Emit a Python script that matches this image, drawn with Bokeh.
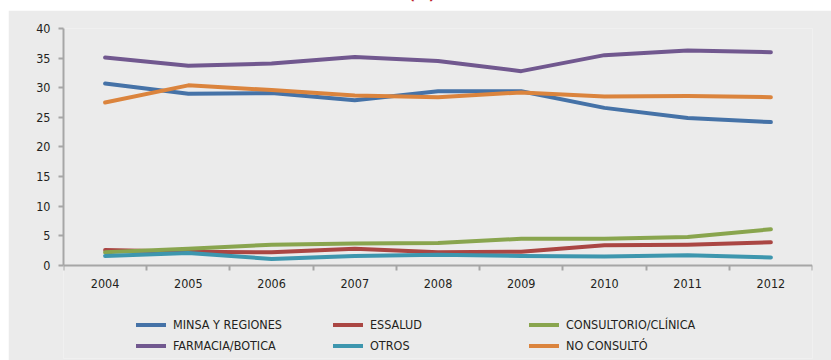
from bokeh.plotting import figure
from bokeh.models import (Range1d, FixedTicker, Legend, LegendItem, Div, LinearAxis)
from bokeh.layouts import column
from bokeh.embed import file_html
from bokeh.resources import INLINE

years = [2004, 2005, 2006, 2007, 2008, 2009, 2010, 2011, 2012]
year_labels = ["2004", "2005", "2006", "2007", "2008", "2009", "2010", "2011", "2012"]

minsa = [30.7, 29.0, 29.1, 27.9, 29.4, 29.4, 26.6, 24.9, 24.2]
essalud = [2.6, 2.3, 2.2, 2.8, 2.2, 2.3, 3.4, 3.5, 3.9]
consultorio = [2.2, 2.8, 3.5, 3.7, 3.8, 4.5, 4.5, 4.8, 6.1]
farmacia = [35.1, 33.7, 34.1, 35.2, 34.5, 32.8, 35.5, 36.3, 36.0]
otros = [1.6, 2.1, 1.1, 1.6, 1.8, 1.6, 1.5, 1.7, 1.35]
no_consulto = [27.5, 30.4, 29.6, 28.7, 28.4, 29.2, 28.5, 28.6, 28.4]

series_names = ["MINSA Y REGIONES", "ESSALUD", "CONSULTORIO/CLÍNICA",
                "FARMACIA/BOTICA", "OTROS", "NO CONSULTÓ"]
series_values = [minsa, essalud, consultorio, farmacia, otros, no_consulto]
series_colors = ["#4572A7", "#AA4643", "#89A54E", "#71588F", "#3D96AE", "#DB843D"]

y_ticks = [0, 5, 10, 15, 20, 25, 30, 35, 40]

BG = "#EBEBEB"
AXIS = "#A6A6A6"
TXT = "#231F20"
FONT = "DejaVu Sans Condensed"

# frame extends below the value axis so that the legend can sit inside it
p = figure(width=823, height=350, output_backend="svg", toolbar_location=None,
           x_range=Range1d(2003.5, 2012.5), y_range=Range1d(-15.72, 40),
           x_axis_type=None, y_axis_type=None,
           min_border_left=55, min_border_right=19, min_border_top=18,
           min_border_bottom=2, margin=(0, 0, 0, 8))
p.background_fill_color = BG
p.border_fill_color = BG
p.outline_line_color = None
p.xgrid.visible = False
p.ygrid.visible = False

xaxis = LinearAxis(ticker=FixedTicker(ticks=years,
                                      minor_ticks=[y - 0.5 for y in years] + [years[-1] + 0.5]),
                   fixed_location=0)
xaxis.major_label_overrides = {y: l for y, l in zip(years, year_labels)}
xaxis.major_tick_line_color = None
xaxis.major_tick_out = 0
xaxis.major_tick_in = 0
xaxis.minor_tick_in = 0
xaxis.minor_tick_out = 5
xaxis.minor_tick_line_color = AXIS
xaxis.minor_tick_line_width = 2
xaxis.axis_line_color = AXIS
xaxis.axis_line_width = 2
xaxis.major_label_standoff = 9
xaxis.major_label_text_font = FONT
xaxis.major_label_text_font_size = "12.5px"
xaxis.major_label_text_color = TXT
p.add_layout(xaxis, "below")

yaxis = LinearAxis(ticker=FixedTicker(ticks=y_ticks, minor_ticks=[]), bounds=(0, 40))
yaxis.major_tick_in = 0
yaxis.major_tick_out = 5
yaxis.major_tick_line_color = AXIS
yaxis.major_tick_line_width = 2
yaxis.minor_tick_line_color = None
yaxis.axis_line_color = AXIS
yaxis.axis_line_width = 2
yaxis.major_label_standoff = 8
yaxis.major_label_text_font = FONT
yaxis.major_label_text_font_size = "12.5px"
yaxis.major_label_text_color = TXT
p.add_layout(yaxis, "left")

renderers = []
for name, vals, col in zip(series_names, series_values, series_colors):
    r = p.line(years, vals, line_color=col, line_width=4,
               line_cap="round", line_join="round")
    renderers.append(r)

# legend: 3 columns of 2 rows
columns_idx = [(0, 3), (1, 4), (2, 5)]
col_x = [73, 270, 466]
for (a, b), lx in zip(columns_idx, col_x):
    lg = Legend(items=[LegendItem(label=series_names[a], renderers=[renderers[a]]),
                       LegendItem(label=series_names[b], renderers=[renderers[b]])],
                location=(lx, 5), orientation="vertical",
                background_fill_alpha=0, border_line_color=None,
                padding=0, margin=0, spacing=6,
                glyph_width=30, glyph_height=15, label_height=15,
                label_standoff=7, label_text_font=FONT,
                label_text_font_size="12.5px", label_text_color=TXT)
    p.add_layout(lg, "center")

title = Div(text='<div style="position:absolute; left:409px; top:-16px; '
                 'color:#C0272D; font-family:\'DejaVu Sans Condensed\'; '
                 'font-weight:bold; font-size:15px; white-space:nowrap;">(%)</div>',
            width=831, height=10, margin=0,
            styles={"overflow": "hidden", "position": "relative"})

layout = column(title, p, spacing=0, margin=0)
open("out.html", "w").write(file_html(layout, INLINE))
